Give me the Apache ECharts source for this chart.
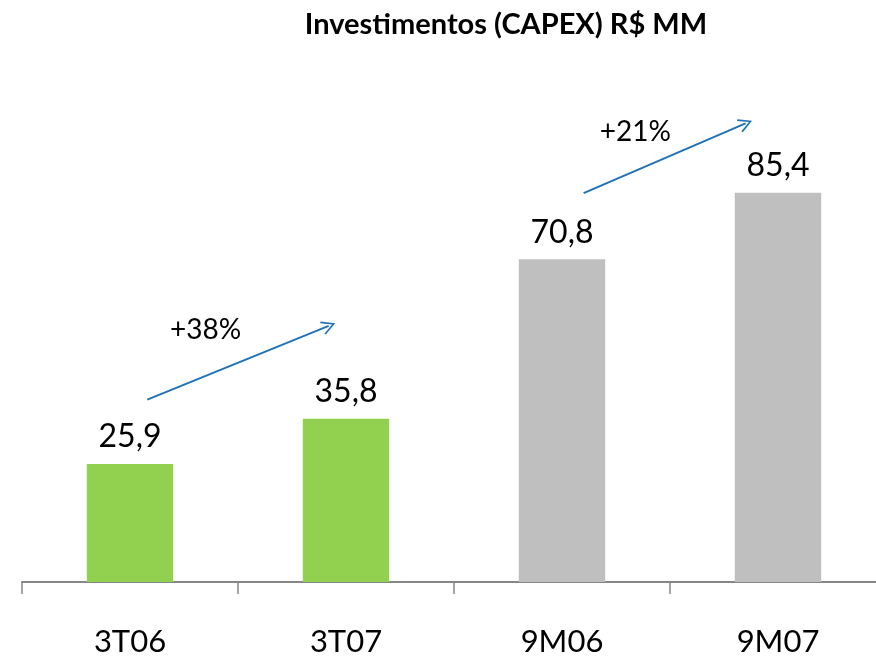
<!DOCTYPE html>
<html>
<head>
<meta charset="utf-8">
<script src="https://cdn.jsdelivr.net/npm/echarts@6/dist/echarts.min.js"></script>
<style>
  html, body { margin: 0; padding: 0; background: #fff; }
  #main { width: 876px; height: 657px; }
</style>
</head>
<body>
<div id="main"></div>
<script>
  // dados do gráfico
  const categories = ['3T06', '3T07', '9M06', '9M07'];
  const values = [25.9, 35.8, 70.8, 85.4];
  const barColors = ['#92D050', '#92D050', '#BFBFBF', '#BFBFBF'];

  // setas de crescimento (posição em unidades do eixo: índice da categoria, valor)
  const growthLabels = ['+38%', '+21%'];
  const arrowStarts = [[0.08, 40], [2.10, 85.3]];
  const arrowEnds = [[0.92, 56.2], [2.85, 100.6]];
  const labelPos = [[0.35, 55.3], [2.34, 98.8]];

  const chevron = 'path://M0,10 L5,0 L10,10 L9,10.8 L5,2.6 L1,10.8 Z';

  let chartDom = document.getElementById('main');
  let myChart = echarts.init(chartDom);

  let option = {
    animation: false,
    title: {
      text: 'Investimentos (CAPEX) R$ MM',
      left: 501,
      textAlign: 'center',
      top: 5,
      textStyle: {
        fontFamily: 'Lato',
        fontSize: 29,
        fontWeight: 'bold',
        color: '#000'
      }
    },
    grid: {
      left: 22,
      width: 864,
      top: 35,
      bottom: 75,
      outerBoundsMode: 'none',
      containLabel: false
    },
    xAxis: [
      {
        type: 'category',
        data: categories,
        axisLine: { lineStyle: { color: '#868686', width: 2 } },
        axisTick: { show: true, length: 12, lineStyle: { color: '#868686', width: 1.5 } },
        axisLabel: {
          margin: 44,
          fontFamily: 'Lato',
          fontSize: 31,
          color: '#000'
        }
      },
      {
        type: 'value',
        min: -0.5,
        max: 3.5,
        show: false
      }
    ],
    yAxis: {
      type: 'value',
      min: 0,
      max: 120,
      show: false
    },
    series: [
      {
        type: 'bar',
        barWidth: '40%',
        data: values.map((v, i) => ({ value: v, itemStyle: { color: barColors[i] } })),
        label: {
          show: true,
          position: 'top',
          distance: 11,
          fontFamily: 'Lato',
          fontSize: 32,
          color: '#000',
          formatter: p => String(p.value).replace('.', ',')
        }
      },
      {
        type: 'lines',
        coordinateSystem: 'cartesian2d',
        xAxisIndex: 1,
        yAxisIndex: 0,
        symbol: ['none', chevron],
        symbolSize: [22, 14],
        lineStyle: { color: '#1F72B8', width: 2, opacity: 1 },
        data: arrowStarts.map((s, i) => ({ coords: [s, arrowEnds[i]] }))
      },
      {
        type: 'scatter',
        xAxisIndex: 1,
        yAxisIndex: 0,
        symbolSize: 1,
        itemStyle: { opacity: 0 },
        data: labelPos.map((p, i) => ({ value: p, name: growthLabels[i] })),
        label: {
          show: true,
          position: 'inside',
          fontFamily: 'Lato',
          fontSize: 28,
          color: '#000',
          opacity: 1,
          textBorderWidth: 0,
          formatter: p => p.name
        }
      }
    ]
  };

  myChart.setOption(option);
</script>
</body>
</html>
